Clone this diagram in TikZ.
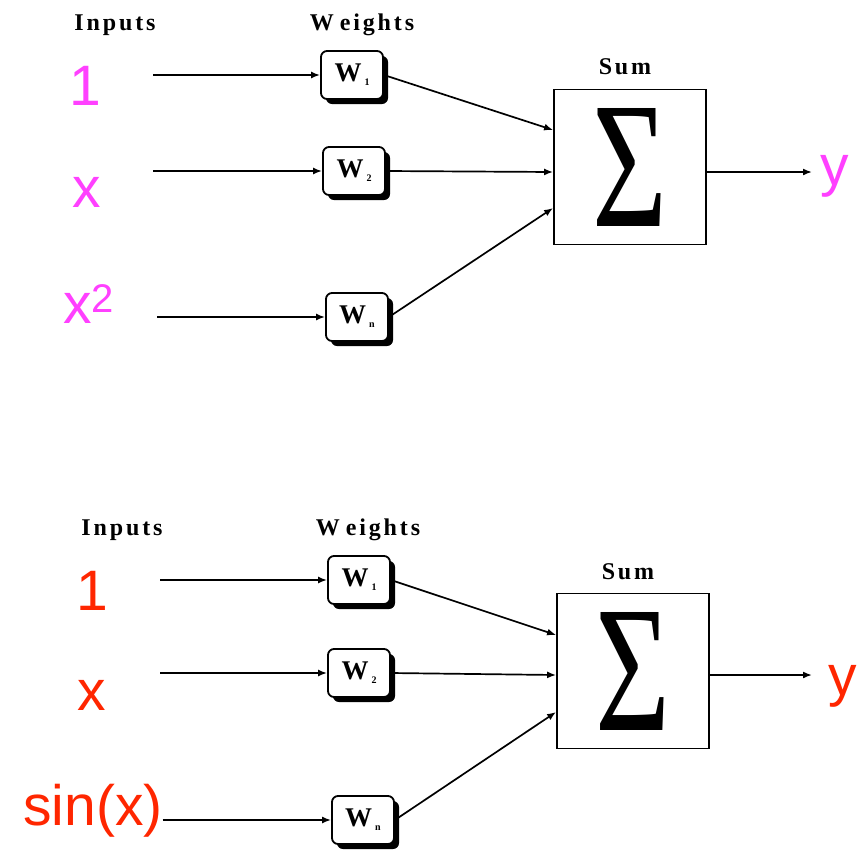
\documentclass[tikz,border=0pt]{standalone}
\usepackage{fontspec}
\usetikzlibrary{calc,shadows,arrows.meta}

\newfontfamily\labfont[LetterSpace=12]{Liberation Serif}
\newfontfamily\wfont{Liberation Serif}
\newfontfamily\inpfont{Liberation Sans}
\definecolor{inmag}{RGB}{255,64,255}
\definecolor{inred}{RGB}{255,38,0}

\begin{document}
\begin{tikzpicture}[x=1pt, y=-1pt, >={Latex[length=9pt,width=7pt]},
	head/.style={font=\labfont\bfseries\fontsize{24}{24}\selectfont, inner sep=0pt},
	weight/.style={draw, line width=1.8pt, rounded corners=6pt, fill=white,
		minimum width=62pt, minimum height=48pt, inner sep=0pt,
		drop shadow={shadow xshift=5pt, shadow yshift=-5pt, fill=black, opacity=1},
		font=\wfont\bfseries\fontsize{27}{27}\selectfont},
	sumbox/.style={draw, line width=1.8pt, minimum width=152pt, minimum height=155pt, inner sep=0pt},
	inp/.style={font=\inpfont\fontsize{57}{57}\selectfont, anchor=base, inner sep=0pt},
	wire/.style={line width=1.7pt}]

	\def\wlab#1{W\kern3pt\raisebox{-4pt}{\fontsize{10}{10}\selectfont #1}}
	\def\bigsum{\resizebox*{75pt}{118pt}{\wfont Σ}\hspace{31pt}}

	\useasboundingbox (0,0) rectangle (862,849);

	% top network: 1, x, x^2
	\node[head] (a-inputs) at (115,25) {Inputs};
	\node[head] (a-weights) at (362,25) {W\kern6pt eights};
	\node[head] (a-sumlab) at (625,67) {Sum};

	\node[inp, text=inmag] (a-in1) at (85,105) {1};
	\node[inp, text=inmag] (a-in2) at (87,207) {x};
	\node[inp, text=inmag, anchor=base west] (a-in3) at (63,323)
	{x\raisebox{11pt}{\fontsize{40}{40}\selectfont 2}};

	\node[weight] (a-w1) at (352,75) {\wlab{1}};
	\node[weight] (a-w2) at (354,171) {\wlab{2}};
	\node[weight] (a-wn) at (357,317) {\wlab{n}};

	\node[sumbox] (a-sum) at (630,167) {\bigsum};
	\node[inp, text=inmag] (a-y) at (835,185) {y};

	\coordinate (a-s1) at (153,75);
	\coordinate (a-s2) at (153,171);
	\coordinate (a-s3) at (157,317);
	\coordinate (a-out) at (812,172);

	% inputs to weights
	\draw[wire, ->] (a-s1) -- (a-w1);
	\draw[wire, ->] (a-s2) -- (a-w2);
	\draw[wire, ->] (a-s3) -- (a-wn);

	% weights to sum
	\draw[wire, ->] (a-w1.east) -- ($(a-sum.west)+(0,-37)$);
	\draw[wire, ->] (a-w2.east) -- ($(a-sum.west)+(0,5)$);
	\draw[wire, ->] (a-wn.east) -- ($(a-sum.west)+(0,41)$);

	% output
	\draw[wire, ->] (a-out -| a-sum.east) -- (a-out);

	% bottom network: 1, x, sin(x)
	\node[head] (b-inputs) at (122,530) {Inputs};
	\node[head] (b-weights) at (368,530) {W\kern6pt eights};
	\node[head] (b-sumlab) at (628,572) {Sum};

	\node[inp, text=inred] (b-in1) at (92,610) {1};
	\node[inp, text=inred] (b-in2) at (92,710) {x};
	\node[inp, text=inred, anchor=base west] (b-in3) at (23,825) {sin(x)};

	\node[weight] (b-w1) at (359,580) {\wlab{1}};
	\node[weight] (b-w2) at (359,673) {\wlab{2}};
	\node[weight] (b-wn) at (363,820) {\wlab{n}};

	\node[sumbox] (b-sum) at (633,671) {\bigsum};
	\node[inp, text=inred] (b-y) at (843,695) {y};

	\coordinate (b-s1) at (160,580);
	\coordinate (b-s2) at (160,673);
	\coordinate (b-out) at (812,675);

	% inputs to weights
	\draw[wire, ->] (b-s1) -- (b-w1);
	\draw[wire, ->] (b-s2) -- (b-w2);
	\draw[wire, ->] (b-in3.east |- b-wn) -- (b-wn);

	% weights to sum
	\draw[wire, ->] (b-w1.east) -- ($(b-sum.west)+(0,-36)$);
	\draw[wire, ->] (b-w2.east) -- ($(b-sum.west)+(0,4)$);
	\draw[wire, ->] (b-wn.east) -- ($(b-sum.west)+(0,41)$);

	% output
	\draw[wire, ->] (b-out -| b-sum.east) -- (b-out);

\end{tikzpicture}
\end{document}
